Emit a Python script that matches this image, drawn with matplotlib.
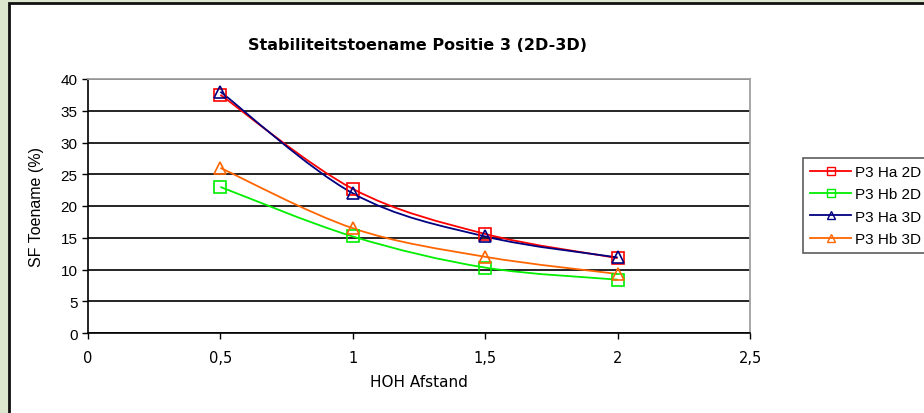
import matplotlib
matplotlib.use("Agg")
import matplotlib.pyplot as plt
import numpy as np
from matplotlib.path import Path
from matplotlib.patches import PathPatch, Rectangle
from matplotlib.lines import Line2D

afstand = [0.5, 1.0, 1.5, 2.0]
ha_2d = [37.5, 22.7, 15.6, 11.8]
hb_2d = [23.0, 15.2, 10.3, 8.4]
ha_3d = [38.0, 22.0, 15.2, 11.9]
hb_3d = [26.0, 16.5, 12.0, 9.3]
labels = ["P3 Ha 2D", "P3 Hb 2D", "P3 Ha 3D", "P3 Hb 3D"]
colors = ["#ff0000", "#00ee00", "#000080", "#ff6600"]
markers = ["s", "s", "^", "^"]

fig = plt.figure(figsize=(9.24, 4.14), dpi=100)
fig.patch.set_facecolor("#dde7cf")
# white panel with dark border, behind the axes
fig.patches.append(Rectangle((9 / 924, -0.05), 1.1, 1 - 4 / 414 + 0.05,
                             transform=fig.transFigure, facecolor="white",
                             edgecolor="#111111", lw=2, zorder=-5))

ax = fig.add_axes([88 / 924, 1 - 334 / 414, (750 - 88) / 924, (334 - 80) / 414])
ax.set_xlim(0, 2.5)
ax.set_ylim(0, 40)
ax.set_facecolor("white")


def smooth_path(x, y):
    # Excel-style smoothed line as cubic bezier segments
    x = np.asarray(x, float); y = np.asarray(y, float)
    n = len(x)
    verts = [(x[0], y[0])]; codes = [Path.MOVETO]
    for i in range(n - 1):
        x0, y0 = (x[i - 1], y[i - 1]) if i > 0 else (x[i], y[i])
        x3, y3 = (x[i + 2], y[i + 2]) if i + 2 < n else (x[i + 1], y[i + 1])
        c1 = (x[i] + (x[i + 1] - x0) / 6, y[i] + (y[i + 1] - y0) / 6)
        c2 = (x[i + 1] - (x3 - x[i]) / 6, y[i + 1] - (y3 - y[i]) / 6)
        verts += [c1, c2, (x[i + 1], y[i + 1])]
        codes += [Path.CURVE4] * 3
    return Path(verts, codes)


for ys, lab, c, m in zip([ha_2d, hb_2d, ha_3d, hb_3d], labels, colors, markers):
    ax.add_patch(PathPatch(smooth_path(afstand, ys), facecolor="none",
                           edgecolor=c, lw=1.3, zorder=3))
    ax.plot(afstand, ys, ls="none", marker=m, ms=9, mfc="none", mec=c,
            mew=1.2, zorder=4)

ax.set_yticks(range(0, 41, 5))
ax.set_xticks([0, 0.5, 1, 1.5, 2, 2.5])
ax.set_xticklabels(["0", "0,5", "1", "1,5", "2", "2,5"])
ax.grid(axis="y", color="black", lw=1.2)
ax.set_axisbelow(True)
for s in ["top", "right"]:
    ax.spines[s].set_color("#a0a0a0")
    ax.spines[s].set_linewidth(1.3)
for s in ["left", "bottom"]:
    ax.spines[s].set_color("black")
    ax.spines[s].set_linewidth(1.2)
ax.tick_params(axis="both", direction="out", length=4, width=1, colors="black",
               labelsize=10.5)
ax.tick_params(axis="x", pad=8)
for t in ax.get_yticklabels():
    t.set_family("Liberation Sans")
    t.set_fontsize(11)
for t in ax.get_xticklabels():
    t.set_family("DejaVu Sans")

ax.set_xlabel("HOH Afstand", fontsize=11, family="DejaVu Sans", labelpad=7)
ax.set_ylabel("SF Toename (%)", fontsize=11.5, family="Liberation Sans", labelpad=12)
fig.text(418 / 924, 1 - 45 / 414, "Stabiliteitstoename Positie 3 (2D-3D)",
         ha="center", va="center", fontsize=11.5, fontweight="bold",
         family="DejaVu Sans")

handles = [Line2D([], [], color=c, lw=1.3, marker=m, ms=6, mfc="none", mec=c)
           for c, m in zip(colors, markers)]
leg = fig.legend(handles, labels, loc="upper left",
                 bbox_to_anchor=(803 / 924, 1 - 159 / 414), frameon=True,
                 fancybox=False, edgecolor="#333333",
                 prop={"family": "Liberation Sans", "size": 11},
                 handlelength=2.7, handletextpad=0.25, labelspacing=0.55,
                 borderpad=0.45, borderaxespad=0)
leg.get_frame().set_linewidth(1.2)

fig.savefig("out.png", dpi=100, facecolor=fig.get_facecolor())
